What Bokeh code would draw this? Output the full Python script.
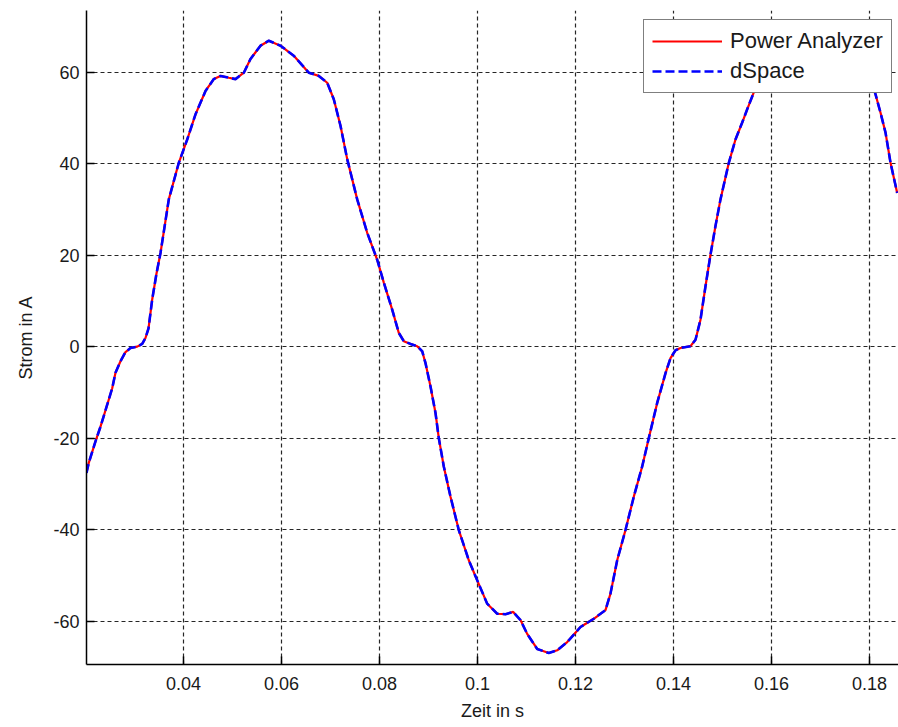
from bokeh.plotting import figure
from bokeh.models import Range1d, FixedTicker, Legend, LegendItem
from bokeh.embed import file_html
from bokeh.resources import INLINE

# time in s
zeit = [0.02020, 0.02067, 0.02204, 0.02306, 0.02443, 0.02545, 0.02612, 0.02714, 0.02816, 0.02918,
        0.03055, 0.03157, 0.03224, 0.03286, 0.03361, 0.03449, 0.03531, 0.03700, 0.03904, 0.04076,
        0.04245, 0.04449, 0.04618, 0.04755, 0.04924, 0.05061, 0.05231, 0.05367, 0.05571, 0.05741,
        0.05980, 0.06251, 0.06557, 0.06761, 0.06933, 0.07067, 0.07204, 0.07341, 0.07545, 0.07749,
        0.07953, 0.08088, 0.08259, 0.08394, 0.08496, 0.08633, 0.08769, 0.08871, 0.08939, 0.09041,
        0.09143, 0.09210, 0.09312, 0.09449, 0.09618, 0.09822, 0.09994, 0.10198, 0.10402, 0.10571,
        0.10729, 0.10878, 0.11014, 0.11218, 0.11455, 0.11627, 0.11831, 0.12102, 0.12373, 0.12612,
        0.12714, 0.12851, 0.13020, 0.13190, 0.13361, 0.13496, 0.13667, 0.13837, 0.13939, 0.14041,
        0.14143, 0.14347, 0.14449, 0.14551, 0.14653, 0.14755, 0.14857, 0.14959, 0.15129, 0.15265,
        0.15402, 0.15504, 0.15639, 0.15738, 0.15875, 0.16044, 0.16181, 0.16351, 0.16487, 0.16691,
        0.16861, 0.17100, 0.17371, 0.17677, 0.17881, 0.18053, 0.18122, 0.18224, 0.18327, 0.18429,
        0.18565]

# current in A, Power Analyzer
strom_pa = [-27.6, -25.4, -20.7, -17.5, -12.7, -9.1, -5.7, -3.2, -1.2, -0.3,
            0.0, 0.6, 1.9, 4.0, 10.3, 16.0, 20.5, 32.2, 40.2, 45.3,
            50.8, 55.9, 58.5, 59.2, 58.8, 58.5, 59.9, 62.9, 65.8, 66.9,
            65.8, 63.6, 59.9, 59.2, 57.7, 54.1, 48.3, 41.0, 32.2, 24.9,
            19.0, 14.0, 8.1, 3.0, 1.2, 0.6, 0.1, -1.0, -3.6, -8.7,
            -14.5, -20.0, -26.2, -32.8, -40.1, -46.7, -51.1, -56.2, -58.4, -58.5,
            -58.0, -59.8, -62.8, -66.1, -67.0, -66.4, -64.6, -61.3, -59.5, -57.6,
            -54.0, -46.7, -40.1, -32.8, -26.2, -20.0, -12.3, -5.8, -2.5, -0.8,
            -0.3, 0.1, 1.5, 5.9, 13.2, 20.1, 26.4, 32.2, 40.2, 45.3,
            49.0, 51.9, 55.6, 58.5, 59.2, 58.8, 58.5, 59.9, 62.9, 65.8,
            66.9, 65.8, 63.6, 59.9, 59.2, 57.7, 55.2, 51.2, 46.8, 40.2,
            33.6]

# current in A, dSpace (indistinguishable from the Power Analyzer trace)
strom_ds = list(strom_pa)

x_ticks = [0.04, 0.06, 0.08, 0.10, 0.12, 0.14, 0.16, 0.18]
x_tick_labels = ["0.04", "0.06", "0.08", "0.1", "0.12", "0.14", "0.16", "0.18"]
y_ticks = [-60, -40, -20, 0, 20, 40, 60]
y_tick_labels = ["-60", "-40", "-20", "0", "20", "40", "60"]

FONT = "Liberation Sans"

p = figure(width=898, height=727, output_backend="svg", toolbar_location=None,
           x_range=Range1d(0.020204, 0.185918), y_range=Range1d(-69.5, 73.5),
           min_border_left=86, min_border_right=0, min_border_top=10, min_border_bottom=63)
p.outline_line_color = None
p.background_fill_color = "white"
p.border_fill_color = "white"

r_pa = p.line(zeit, strom_pa, line_color="#ff0000", line_width=2.2)
r_ds = p.line(zeit, strom_ds, line_color="#0000ff", line_width=2.6, line_dash="9 4")

for ax in (p.xaxis[0], p.yaxis[0]):
    ax.axis_line_color = "black"
    ax.axis_line_width = 1.5
    ax.major_tick_in = 8
    ax.major_tick_out = 0
    ax.major_tick_line_color = "black"
    ax.major_tick_line_width = 1.5
    ax.minor_tick_line_color = None
    ax.major_label_text_font = FONT
    ax.major_label_text_font_size = "18px"
    ax.major_label_text_color = "#1a1a1a"
    ax.axis_label_text_font = FONT
    ax.axis_label_text_font_size = "18px"
    ax.axis_label_text_font_style = "normal"
    ax.axis_label_text_color = "#1a1a1a"

p.xaxis[0].ticker = FixedTicker(ticks=x_ticks)
p.xaxis[0].major_label_overrides = {t: l for t, l in zip(x_ticks, x_tick_labels)}
p.xaxis[0].axis_label = "Zeit in s"
p.xaxis[0].major_label_standoff = 12
p.xaxis[0].axis_label_standoff = 8

p.yaxis[0].ticker = FixedTicker(ticks=y_ticks)
p.yaxis[0].major_label_overrides = {t: l for t, l in zip(y_ticks, y_tick_labels)}
p.yaxis[0].axis_label = "Strom in A"
p.yaxis[0].major_label_standoff = 7
p.yaxis[0].axis_label_standoff = 14

for g in (p.xgrid[0], p.ygrid[0]):
    g.grid_line_color = "black"
    g.grid_line_alpha = 0.85
    g.grid_line_dash = "4 3"
    g.grid_line_width = 1.2

legend = Legend(items=[LegendItem(label="Power Analyzer", renderers=[r_pa]),
                       LegendItem(label="dSpace", renderers=[r_ds])],
                location=(557, 571))
legend.margin = 0
legend.padding = 8
legend.spacing = 4
legend.label_height = 22
legend.glyph_height = 22
legend.glyph_width = 70
legend.label_standoff = 8
legend.label_text_font = FONT
legend.label_text_font_size = "22px"
legend.label_text_color = "#1a1a1a"
legend.border_line_color = "black"
legend.border_line_width = 1.5
legend.background_fill_color = "white"
legend.background_fill_alpha = 1.0
p.add_layout(legend, "center")

open("out.html", "w").write(file_html(p, INLINE))
